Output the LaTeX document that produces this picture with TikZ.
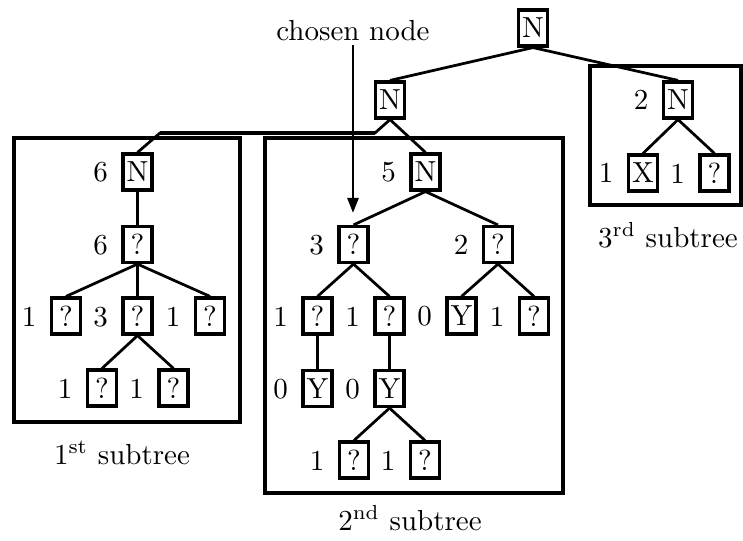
\documentclass[tikz,border=0pt]{standalone}
\usetikzlibrary{arrows.meta}
\begin{document}
\begin{tikzpicture}[x=0.3448pt,y=-0.3448pt,
  box/.style={draw,line width=1.2pt,minimum width=10.1pt,minimum height=12.3pt,inner sep=0pt},
  lab/.style={inner sep=0pt,anchor=base},
  edge/.style={line width=0.95pt},
  frame/.style={line width=1.15pt},
  pointer/.style={line width=0.9pt,-{Triangle[length=5.2pt,width=3.8pt]}}
]
\useasboundingbox (0,0) rectangle (743,541);
\newcommand\bx[4]{\node[box] (#1) at (#2) {#3};
  \node[lab] (#1l) at ([xshift=-12.75pt]#1.base) {#4};}
% top
\node[box] (R) at (533,28) {N};
\node[box] (A) at (390,100) {N};
% 3rd subtree
\bx{C}{678,100}{N}{2}
\bx{C1}{643,173}{X}{1}
\bx{C2}{714.5,173}{?}{1}
% 1st subtree
\bx{P}{137.5,172}{N}{6}
\bx{P1}{137.5,244.5}{?}{6}
\bx{P11}{66,316}{?}{1}
\bx{P12}{137.5,316}{?}{3}
\bx{P13}{210,316}{?}{1}
\bx{P121}{102,388}{?}{1}
\bx{P122}{173.5,388}{?}{1}
% 2nd subtree
\bx{Q}{425.5,172}{N}{5}
\bx{Q1}{353.5,244.5}{?}{3}
\bx{Q2}{498,244.5}{?}{2}
\bx{Q11}{317.5,316}{?}{1}
\bx{Q12}{389.5,316}{?}{1}
\bx{Q21}{461.5,316}{Y}{0}
\bx{Q22}{534,316}{?}{1}
\bx{Q111}{317.5,388.5}{Y}{0}
\bx{Q121}{389.5,388.5}{Y}{0}
\bx{Q1211}{354,460}{?}{1}
\bx{Q1212}{425,460}{?}{1}
% frames
\draw[frame] (14,138) rectangle (240,422);
\draw[frame] (265,138) rectangle (563,493);
\draw[frame] (590,66) rectangle (741,205);
% captions
\node[lab] (cap1) at (122,464) {1\textsuperscript{st} subtree};
\node[lab] (cap2) at (410,530) {2\textsuperscript{nd} subtree};
\node[lab] (cap3) at (668,247) {3\textsuperscript{rd} subtree};
\node[inner sep=1pt] (chosen) at (353,31) {chosen node};
% connectors
\coordinate (c1) at (375,133);
\coordinate (c2) at (160,133);
\coordinate (tip) at (353,213);
\draw[edge] (R.south) -- (A.north);
\draw[edge] (R.south) -- (C.north);
\draw[edge] (A.south) -- (Q.north);
\draw[edge,line join=round] (A.south) -- (c1) -- (c2) -- (P.north);
\draw[line width=1.4pt] (c1) -- (c2);
\draw[edge] (C.south) -- (C1.north);
\draw[edge] (C.south) -- (C2.north);
\draw[edge] (P.south) -- (P1.north);
\draw[edge] (P1.south) -- (P11.north);
\draw[edge] (P1.south) -- (P12.north);
\draw[edge] (P1.south) -- (P13.north);
\draw[edge] (P12.south) -- (P121.north);
\draw[edge] (P12.south) -- (P122.north);
\draw[edge] (Q.south) -- (Q1.north);
\draw[edge] (Q.south) -- (Q2.north);
\draw[edge] (Q1.south) -- (Q11.north);
\draw[edge] (Q1.south) -- (Q12.north);
\draw[edge] (Q2.south) -- (Q21.north);
\draw[edge] (Q2.south) -- (Q22.north);
\draw[edge] (Q11.south) -- (Q111.north);
\draw[edge] (Q12.south) -- (Q121.north);
\draw[edge] (Q121.south) -- (Q1211.north);
\draw[edge] (Q121.south) -- (Q1212.north);
\draw[pointer] (chosen.south) -- (tip);
\end{tikzpicture}
\end{document}
